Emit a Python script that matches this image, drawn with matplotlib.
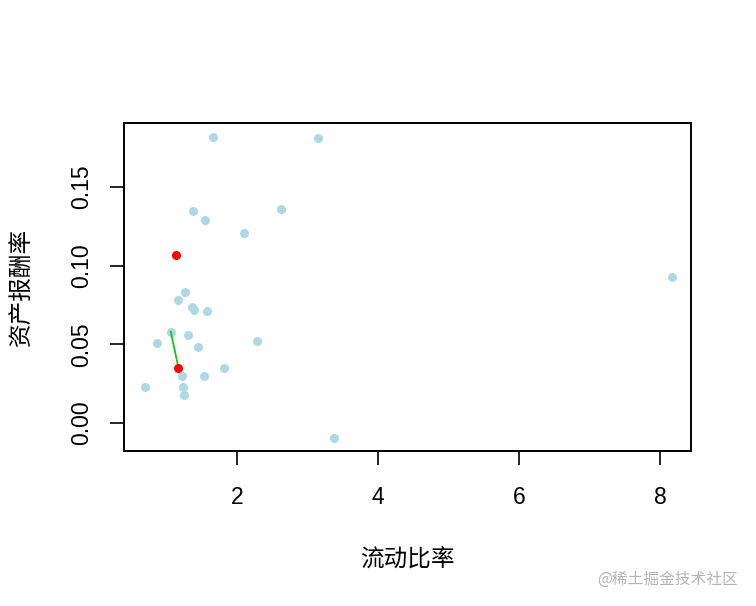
import matplotlib
matplotlib.use("Agg")
import matplotlib.pyplot as plt

plt.rcParams['font.family'] = ['Liberation Sans', 'Noto Sans CJK SC', 'DejaVu Sans']

# Blue points (流动比率, 资产报酬率)
current_ratio = [1.66, 3.15, 1.38, 1.55, 2.62, 2.10, 8.17, 1.26, 1.16, 1.36, 1.39,
                 1.57, 1.06, 0.86, 1.30, 1.44, 2.29, 1.82, 1.22, 1.53, 0.70, 1.24,
                 1.25, 3.38]
roa = [0.182, 0.181, 0.135, 0.129, 0.136, 0.121, 0.093, 0.083, 0.078, 0.074, 0.072,
       0.071, 0.058, 0.051, 0.056, 0.048, 0.052, 0.035, 0.030, 0.030, 0.023, 0.023,
       0.0175, -0.0095]

# Red highlighted points
red_x = [1.13, 1.17]
red_y = [0.107, 0.035]

# Green segment
seg_x = [1.06, 1.17]
seg_y = [0.058, 0.035]

xticks = [2, 4, 6, 8]
yticks = [0.00, 0.05, 0.10, 0.15]
ytick_labels = ["0.00", "0.05", "0.10", "0.15"]

fig = plt.figure(figsize=(7.56, 6.06), dpi=100)
ax = fig.add_axes([124/756, 1-451/606, (691-124)/756, (451-123)/606])

ax.plot(current_ratio, roa, 'o', color='#add8e6', markersize=6.5, markeredgewidth=0, zorder=2)
ax.plot(seg_x, seg_y, '-', color='#14c814', linewidth=1.3, zorder=3)
ax.plot(red_x, red_y, 'o', color='#ff0000', markersize=6.5, markeredgewidth=0, zorder=4)

ax.set_xlim(0.397, 8.44)
ax.set_ylim(-0.0178, 0.1906)
ax.set_xticks(xticks)
ax.set_xticklabels([str(t) for t in xticks])
ax.set_yticks(yticks)
ax.set_yticklabels(ytick_labels, rotation=90, va='center')

for s in ax.spines.values():
    s.set_linewidth(1.4)
    s.set_color('black')

ax.tick_params(axis='both', direction='out', length=10, width=1.2, labelsize=16.5, colors='black')
ax.tick_params(axis='x', pad=15)
ax.tick_params(axis='y', pad=12)

cjk = ['Noto Sans CJK SC', 'DejaVu Sans']
ax.set_xlabel('流动比率', fontsize=17, family=cjk, va='center')
ax.xaxis.set_label_coords(0.5, (451-560)/328)
ax.set_ylabel('资产报酬率', fontsize=17, family=cjk, va='center')
ax.yaxis.set_label_coords((22-124)/567, 0.5)

fig.text(738/756, 1-579/606, '@稀土掘金技术社区', ha='right', va='center', fontsize=11.3,
         color='#b4b4b4', family=cjk)

fig.savefig('out.png', dpi=100)
